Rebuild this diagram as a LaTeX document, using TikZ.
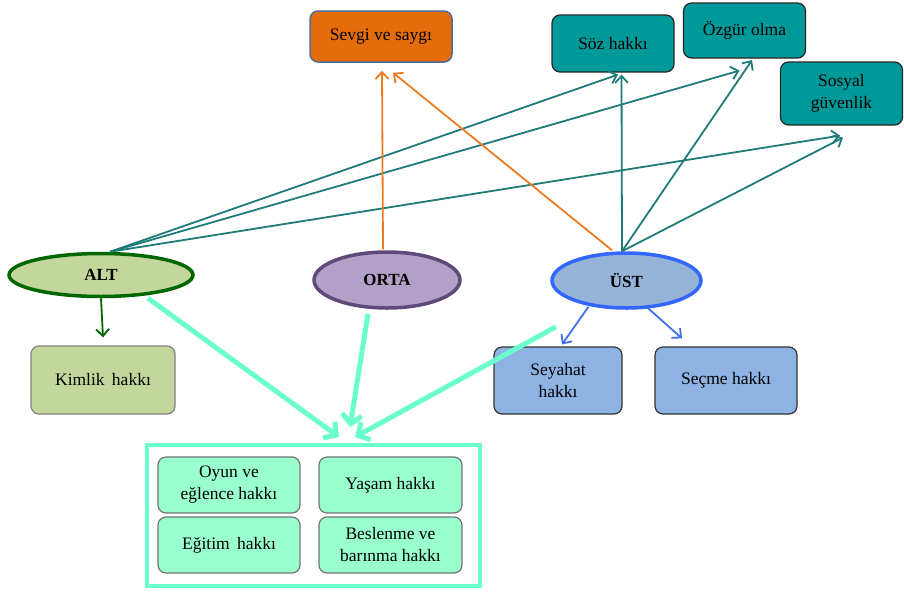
\documentclass[tikz,border=0pt]{standalone}
\usepackage{fontspec}
\setmainfont{Liberation Serif}
\usetikzlibrary{shapes.geometric,arrows.meta,calc}
\definecolor{tealfill}{HTML}{009999}
\definecolor{tealline}{HTML}{1E7B78}
\definecolor{orangeline}{HTML}{EE7A22}
\definecolor{orangefill}{HTML}{E46C0A}
\definecolor{sevgiborder}{HTML}{4F6D96}
\definecolor{altfill}{HTML}{C3D69B}
\definecolor{altborder}{HTML}{006600}
\definecolor{ortafill}{HTML}{B2A1C7}
\definecolor{ortaborder}{HTML}{5F497A}
\definecolor{ustfill}{HTML}{95B3D7}
\definecolor{ustborder}{HTML}{3366FF}
\definecolor{bluefill}{HTML}{8DB3E2}
\definecolor{blueline}{HTML}{3F6FF0}
\definecolor{mint}{HTML}{6BFFCF}
\definecolor{mintfill}{HTML}{99FFCC}
\tikzset{
  txt/.style={font=\fontsize{17.5}{22}\selectfont, align=center},
  rbox/.style={txt, rectangle, rounded corners=8pt, draw, line width=1.2pt, inner sep=0pt},
  ell/.style={ellipse, draw, line width=3.5pt, inner sep=0pt, font=\fontsize{17}{20}\selectfont\bfseries},
  thinarrow/.style={line width=1.8pt, -{Straight Barb[length=7pt,width=13pt,line width=1.8pt]}},
  thickarrow/.style={line width=5pt, color=mint, -{Straight Barb[length=9pt,width=20pt,line width=5pt]}}
}
\begin{document}
\begin{tikzpicture}[x=1pt,y=-1pt]
\useasboundingbox (0,0) rectangle (904,592);
% top boxes
\node[rbox, fill=orangefill, draw=sevgiborder, line width=1.5pt, minimum width=142pt, minimum height=51pt] (sevgi) at (381,36.5) {Sevgi ve saygı};
\node[rbox, fill=tealfill, draw=black!85, minimum width=122pt, minimum height=57pt] (soz) at (613,43.5) {Söz hakkı};
\node[rbox, fill=tealfill, draw=black!85, minimum width=122pt, minimum height=55pt] (ozgur) at (744.5,30.5) {Özgür olma};
\node[rbox, fill=tealfill, draw=black!85, minimum width=122pt, minimum height=63pt] (sosyal) at (841.5,93.5) {Sosyal\\güvenlik};
% ellipses
\node[ell, fill=altfill, draw=altborder, minimum width=184pt, minimum height=43pt] (alt) at (101,275) {ALT};
\node[ell, fill=ortafill, draw=ortaborder, minimum width=146pt, minimum height=56pt] (orta) at (387,280) {ORTA};
\node[ell, fill=ustfill, draw=ustborder, minimum width=149pt, minimum height=55pt] (ust) at (626.5,280.5) {ÜST};
% middle boxes
\node[rbox, fill=altfill, draw=black!50, minimum width=144pt, minimum height=68pt] (kimlik) at (103,380) {Kimlik\, hakkı};
\node[rbox, fill=bluefill, draw=black!80, minimum width=128pt, minimum height=67pt] (seyahat) at (558,380.5) {Seyahat\\hakkı};
\node[rbox, fill=bluefill, draw=black!80, minimum width=142pt, minimum height=67pt] (secme) at (726,380.5) {Seçme hakkı};
% bottom group
\node[draw=mint, line width=4pt, fill=white, minimum width=333pt, minimum height=141pt, inner sep=0pt] (grp) at (313.5,515.5) {};
\node[rbox, fill=mintfill, draw=black!55, minimum width=142pt, minimum height=56pt] (oyun) at (229,485) {Oyun ve\\eğlence hakkı};
\node[rbox, fill=mintfill, draw=black!55, minimum width=143pt, minimum height=56pt] (yasam) at (390.5,485) {Yaşam hakkı};
\node[rbox, fill=mintfill, draw=black!55, minimum width=142pt, minimum height=56pt] (egitim) at (229,545) {Eğitim\, hakkı};
\node[rbox, fill=mintfill, draw=black!55, minimum width=143pt, minimum height=56pt] (beslenme) at (390.5,545) {Beslenme ve\\barınma hakkı};
% teal arrows
\draw[thinarrow, tealline] ($(alt.north)+(9,0)$) -- ($(soz.south)+(5,2)$);
\draw[thinarrow, tealline] ($(alt.north)+(9,0)$) -- ($(ozgur.south)+(-5,12)$);
\draw[thinarrow, tealline] ($(alt.north)+(9,0)$) -- ($(sosyal.south)+(-1.5,10)$);
\draw[thinarrow, tealline] ($(ust.north)+(-4.5,0)$) -- ($(soz.south)+(8.5,2)$);
\draw[thinarrow, tealline] ($(ust.north)+(-4.5,0)$) -- ($(ozgur.south)+(7.5,1.5)$);
\draw[thinarrow, tealline] ($(ust.north)+(-4.5,0)$) -- ($(sosyal.south)+(1.5,12)$);
% orange arrows
\draw[thinarrow, orangeline] ($(orta.north)+(-4,-1)$) -- ($(sevgi.south)+(1,8)$);
\draw[thinarrow, orangeline] ($(ust.north)+(-14.5,-1)$) -- ($(sevgi.south)+(12,10)$);
% green arrow
\draw[thinarrow, altborder] (alt.south) -- ($(kimlik.north)+(0,-8)$);
% blue arrows
\draw[thinarrow, blueline] ($(ust.south)+(-38,-3)$) -- ($(seyahat.north)+(4,-2)$);
\draw[thinarrow, blueline] ($(ust.south)+(21,-2)$) -- ($(secme.north)+(-44,-8)$);
% mint arrows
\draw[thickarrow] ($(alt.south)+(47,0)$) -- ($(grp.north)+(25.5,-6)$);
\draw[thickarrow] ($(orta.south)+(-19,4)$) -- ($(grp.north)+(36.5,-16)$);
\draw[thickarrow] ($(ust.south)+(-70.5,17)$) -- ($(grp.north)+(41.5,-6)$);
\end{tikzpicture}
\end{document}
